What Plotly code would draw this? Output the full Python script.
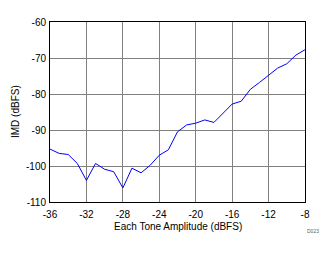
import plotly.graph_objects as go

amplitude_dbfs = [-36, -35, -34, -33, -32, -31, -30, -29, -28, -27, -26, -25, -24, -23, -22,
                  -21, -20, -19, -18, -17, -16, -15, -14, -13, -12, -11, -10, -9, -8]
imd_dbfs = [-95.3, -96.5, -96.8, -99.3, -104.0, -99.3, -100.9, -101.6, -106.1, -100.6, -101.9,
            -99.8, -97.0, -95.5, -90.5, -88.6, -88.1, -87.2, -87.9, -85.2, -82.8, -82.0,
            -78.7, -76.8, -74.7, -72.8, -71.6, -69.2, -67.7]
x_ticks = [-36, -32, -28, -24, -20, -16, -12, -8]
y_ticks = [-110, -100, -90, -80, -70, -60]

font = dict(family="Liberation Sans, Arial, sans-serif", size=10, color="black")

fig = go.Figure()
fig.add_trace(go.Scatter(x=amplitude_dbfs, y=imd_dbfs, mode="lines",
                         line=dict(color="#0000ff", width=1), showlegend=False))

fig.update_xaxes(range=[-36, -8], tickvals=x_ticks, ticktext=[str(v) for v in x_ticks],
                 showgrid=True, gridcolor="#808080", gridwidth=1,
                 showline=True, linecolor="black", linewidth=1, mirror=True,
                 ticks="", zeroline=False, tickfont=font, ticklabelstandoff=3)
fig.update_yaxes(range=[-110, -60], tickvals=y_ticks, ticktext=[str(v) for v in y_ticks],
                 showgrid=True, gridcolor="#808080", gridwidth=1,
                 showline=True, linecolor="black", linewidth=1, mirror=True,
                 ticks="", zeroline=False, tickfont=font, ticklabelstandoff=1)

fig.add_annotation(text="IMD (dBFS)", xref="paper", yref="paper", x=0, y=0.5,
                   xshift=-35, textangle=-90, showarrow=False, font=font,
                   xanchor="center", yanchor="middle")
fig.add_annotation(text="Each Tone Amplitude (dBFS)", xref="paper", yref="paper", x=0.5, y=0,
                   yshift=-24, showarrow=False, font=font, xanchor="center", yanchor="middle")
fig.add_annotation(text="D023", xref="paper", yref="paper", x=1, y=0,
                   xshift=8, yshift=-29, showarrow=False,
                   font=dict(family="Liberation Sans, Arial, sans-serif", size=5, color="#606060"),
                   xanchor="center", yanchor="middle")

fig.update_layout(width=335, height=254, margin=dict(l=50, r=30, t=22, b=52),
                  paper_bgcolor="white", plot_bgcolor="white", font=font)

fig.write_html("out.html")
